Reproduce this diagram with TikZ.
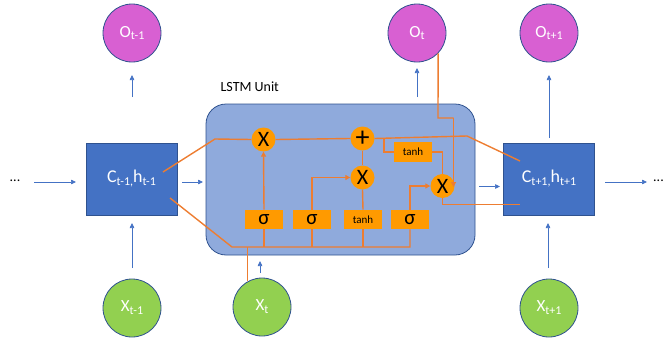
\documentclass[tikz,border=0pt]{standalone}
\usepackage{fontspec}
\setmainfont{Carlito}
\usetikzlibrary{arrows.meta,calc}
\definecolor{cblue}{HTML}{4472C4}
\definecolor{cdark}{HTML}{2F528F}
\definecolor{cunit}{HTML}{8FAADC}
\definecolor{cmag}{HTML}{D860D2}
\definecolor{cgreen}{HTML}{92D050}
\definecolor{cgate}{HTML}{FF9A00}
\definecolor{cline}{HTML}{ED7D31}
\tikzset{
  statebox/.style={draw=cdark,line width=0.8pt,fill=cblue,minimum width=91pt,minimum height=72pt,text=white,font=\fontsize{18}{18}\selectfont,inner sep=0pt},
  outcirc/.style={circle,draw=cdark,line width=0.8pt,fill=cmag,minimum size=58pt,text=white,font=\fontsize{17}{17}\selectfont,inner sep=0pt},
  incirc/.style={circle,draw=cdark,line width=0.8pt,fill=cgreen,minimum size=58pt,text=white,font=\fontsize{17}{17}\selectfont,inner sep=0pt},
  gatecirc/.style={circle,fill=cgate,minimum size=24pt,inner sep=0pt,font=\fontsize{22}{22}\selectfont},
  gatebox/.style={fill=cgate,minimum width=38pt,minimum height=19.5pt,inner sep=0pt},
  sig/.style={gatebox,font=\fontsize{21}{21}\selectfont},
  tnh/.style={gatebox,font=\fontsize{11}{11}\selectfont},
  barrow/.style={draw=cblue,line width=0.7pt,-{Triangle[length=5pt,width=4.5pt]}},
  oline/.style={draw=cline,line width=1.4pt},
  oarrow/.style={oline,-{Triangle[length=5pt,width=5pt]}},
}
\newcommand{\sbs}[1]{\raisebox{-0.35ex}{\fontsize{12}{12}\selectfont #1}}
\begin{document}
\begin{tikzpicture}[x=1pt,y=-1pt]
\useasboundingbox (0,0) rectangle (665,343);
% unit
\node[draw=cdark,line width=0.8pt,fill=cunit,rounded corners=20pt,minimum width=269pt,minimum height=151pt] (unit) at (340.5,179.5) {};
\node[font=\fontsize{14}{14}\selectfont,anchor=west] (lbl) at (217,87) {LSTM Unit};
% state boxes
\node[statebox] (cprev) at (131.5,179) {C\sbs{t-1,}h\sbs{t-1}};
\node[statebox] (cnext) at (549,179) {C\sbs{t+1,}h\sbs{t+1}};
% outputs
\node[outcirc] (oprev) at (132,33) {O\sbs{t-1}};
\node[outcirc] (ot) at (417,33) {O\sbs{t}};
\node[outcirc] (onext) at (549,33) {O\sbs{t+1}};
% inputs
\node[incirc] (xprev) at (132,308) {X\sbs{t-1}};
\node[incirc] (xt) at (262,307) {X\sbs{t}};
\node[incirc] (xnext) at (549,308) {X\sbs{t+1}};
% dots
\node[font=\fontsize{14}{14}\selectfont] (dl) at (15,181) {...};
\node[font=\fontsize{14}{14}\selectfont,anchor=east,inner xsep=1pt] (dr) at (665,181) {...};
% blue arrow coordinates
\coordinate (a1) at (34,182); \coordinate (a2) at (76,182);
\coordinate (a3) at (182,182); \coordinate (a4) at (203,182);
\coordinate (a5) at (479,186.5); \coordinate (a6) at (500,186.5);
\coordinate (a7) at (605,182); \coordinate (a8) at (647,182);
\coordinate (u1) at (132,97); \coordinate (u2) at (132,75);
\coordinate (u3) at (417,97); \coordinate (u4) at (417,68);
\coordinate (u5) at (549,138); \coordinate (u6) at (549,75);
\coordinate (d1) at (132,268); \coordinate (d2) at (132,223);
\coordinate (d3) at (260,273); \coordinate (d4) at (260,261);
\coordinate (d5) at (548,268); \coordinate (d6) at (548,223);
\draw[barrow] (a1) -- (a2);
\draw[barrow] (a3) -- (a4);
\draw[barrow] (a5) -- (a6);
\draw[barrow] (a7) -- (a8);
\draw[barrow] (u1) -- (u2);
\draw[barrow] (u3) -- (u4);
\draw[barrow] (u5) -- (u6);
\draw[barrow] (d1) -- (d2);
\draw[barrow] (d3) -- (d4);
\draw[barrow] (d5) -- (d6);
% gates
\node[gatecirc] (fx) at (263.5,139.5) {X};
\node[gatecirc,font=\fontsize{28}{28}\selectfont] (plus) at (362.5,138.5) {\raisebox{-0.3ex}{+}};
\node[gatecirc] (ix) at (362.5,177.5) {X};
\node[gatecirc] (ox) at (442.5,186) {X};
\node[tnh] (th) at (413,152) {tanh};
\node[sig] (s1) at (264,219.5) {σ};
\node[sig] (s2) at (312,219.5) {σ};
\node[tnh] (s3) at (363,219.5) {tanh};
\node[sig] (s4) at (410,219.5) {σ};
% orange lines
\coordinate (c1) at (163,172);
\coordinate (c2) at (215,139);
\coordinate (c3) at (467,136);
\coordinate (c4) at (520,161);
\draw[oline] (c1) -- (c2) -- (fx.west);
\draw[oline] (fx.east) -- (plus.west);
\draw[oline] (plus.east) -- (c3) -- (c4);
\coordinate (h1) at (170,198);
\coordinate (hl) at (232,247);
\draw[oline] (h1) -- (hl) -- (s4.south |- hl) -- (s4.south);
\draw[oline] (s1.south) -- (s1.south |- hl);
\draw[oline] (s2.south) -- (s2.south |- hl);
\draw[oline] (s3.south) -- (s3.south |- hl);
\draw[oline] (xt.119) -- (xt.119 |- hl);
\draw[oarrow] (s1.north) -- (fx.south);
\draw[oarrow] (s2.north) |- (ix.west);
\draw[oline] (s3.north) -- (ix.south);
\draw[oline] (ix.north) -- (plus.south);
\draw[oarrow] (s4.north) |- (ox.west);
\coordinate (br) at (384,138.5);
\draw[oline] (th.west) -| (br);
\draw[oline] (th.east) -| (ox.north);
\coordinate (hn) at (520,204.5);
\draw[oline] (ox.south) |- (hn);
\coordinate (o1) at (438,118);
\coordinate (o2) at (453.5,118);
\coordinate (o3) at (453.5,187);
\draw[oline] (ot.-44) -- (o1) -- (o2);
\draw[oarrow] (o2) -- (o3);
\end{tikzpicture}
\end{document}
